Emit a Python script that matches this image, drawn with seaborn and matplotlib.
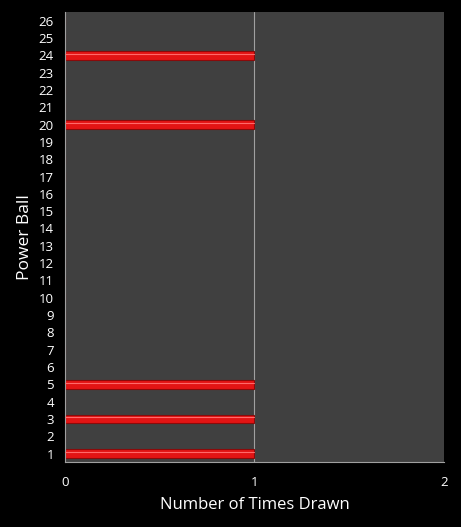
import pandas as pd
import matplotlib
matplotlib.use('Agg')
import matplotlib.pyplot as plt
import seaborn as sns

# power ball numbers and how often each was drawn
balls = [str(i) for i in range(1, 27)]
times_drawn = [1, 0, 1, 0, 1, 0, 0, 0, 0, 0, 0, 0, 0, 0, 0, 0, 0, 0, 0, 1, 0, 0, 0, 1, 0, 0]

df = pd.DataFrame({'ball': balls, 'count': times_drawn})

sns.set_style('dark')
plt.rcParams['font.family'] = ['Open Sans', 'DejaVu Sans']

fig = plt.figure(figsize=(4.61, 5.27), dpi=100, facecolor='black')
ax = fig.add_axes([0.141, 0.123, 0.822, 0.854])
ax.set_facecolor('#404040')

order = balls[::-1]  # 26 on top
sns.barplot(data=df, x='count', y='ball', order=order, orient='h',
            color='#e31414', width=0.5, edgecolor='#8a0a0a', linewidth=0.8,
            saturation=1, ax=ax)

# thin highlight on the bars for a bit of shine
for p in ax.patches:
    if p.get_width() > 0:
        y0 = p.get_y() + p.get_height() * 0.3
        ax.plot([0, p.get_width()], [y0, y0], color='#ff6a6a', lw=0.8, zorder=3)

ax.set_xlim(0, 2)
ax.set_xticks([0, 1, 2])
ax.set_ylim(len(balls) - 0.5, -0.5)
ax.axvline(1, color='#a0a0a0', lw=0.8, zorder=0)

for s in ['top', 'right']:
    ax.spines[s].set_visible(False)
for s in ['left', 'bottom']:
    ax.spines[s].set_color('#a0a0a0')
    ax.spines[s].set_linewidth(0.8)

ax.tick_params(colors='white', labelsize=9.5, length=0)
ax.tick_params(axis='y', pad=8)
ax.tick_params(axis='x', pad=10)
ax.set_xlabel('Number of Times Drawn', color='white', fontsize=12, labelpad=6)
ax.set_ylabel('Power Ball', color='white', fontsize=12.5, labelpad=4)

fig.savefig('out.png', dpi=100, facecolor='black')
